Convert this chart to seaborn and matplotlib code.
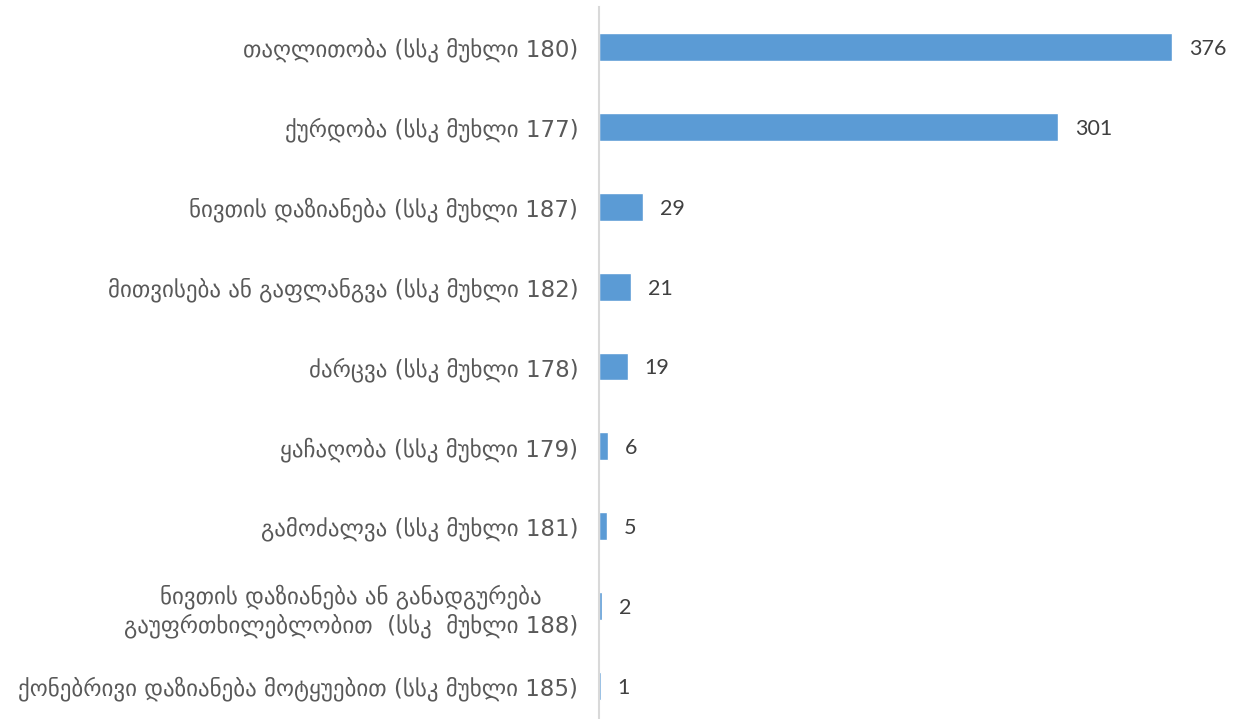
import matplotlib
matplotlib.use("Agg")
import matplotlib.pyplot as plt
import seaborn as sns
import pandas as pd

# Data
categories = [
    "თაღლითობა (სსკ მუხლი 180)",
    "ქურდობა (სსკ მუხლი 177)",
    "ნივთის დაზიანება (სსკ მუხლი 187)",
    "მითვისება ან გაფლანგვა (სსკ მუხლი 182)",
    "ძარცვა (სსკ მუხლი 178)",
    "ყაჩაღობა (სსკ მუხლი 179)",
    "გამოძალვა (სსკ მუხლი 181)",
    "ნივთის დაზიანება ან განადგურება\nგაუფრთხილებლობით  (სსკ  მუხლი 188)",
    "ქონებრივი დაზიანება მოტყუებით (სსკ მუხლი 185)",
]
counts = [376, 301, 29, 21, 19, 6, 5, 2, 1]

df = pd.DataFrame({"category": categories, "count": counts})

sns.set_style("white")
plt.rcParams['font.family'] = ['DejaVu Sans']

fig = plt.figure(figsize=(12.37, 7.19), dpi=100)
ax = fig.add_axes([599 / 1237, -7 / 719, 610 / 1237, 719 / 719])

sns.barplot(data=df, x="count", y="category", color="#5B9BD5", saturation=1,
            width=0.35, ax=ax)

ax.set_xlim(0, 400)
ax.set_ylim(8.5, -0.5)
ax.set_xlabel("")
ax.set_ylabel("")
ax.set_xticks([])

# value labels next to each bar
for i, v in enumerate(counts):
    ax.annotate(str(v), (v, i), xytext=(12, 0), textcoords="offset points",
                va="center_baseline", ha="left", fontsize=15.5, color="#404040",
                family=["Lato", "DejaVu Sans"])

ax.tick_params(axis="y", length=0, pad=15, labelsize=16.5, labelcolor="#595959")
for lbl in ax.get_yticklabels():
    lbl.set_horizontalalignment("right")
    lbl.set_multialignment("center")

for s in ["top", "right", "bottom"]:
    ax.spines[s].set_visible(False)
ax.spines["left"].set_color("#D9D9D9")
ax.spines["left"].set_linewidth(1.5)

fig.savefig("out.png", dpi=100)
